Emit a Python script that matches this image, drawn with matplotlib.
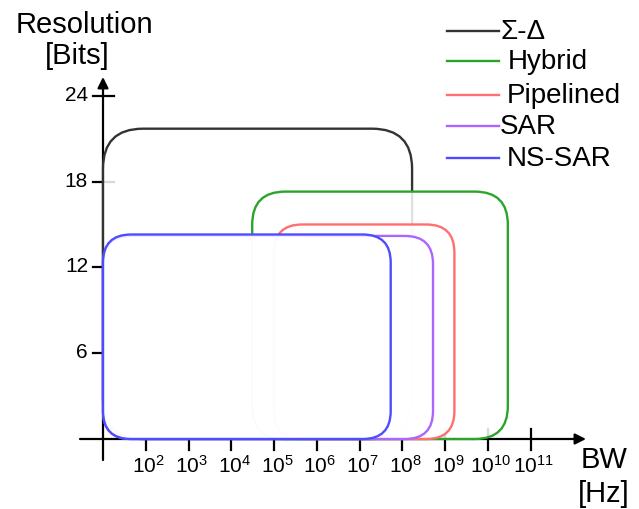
import matplotlib
matplotlib.use('Agg')
import matplotlib.pyplot as plt
from matplotlib.patches import FancyBboxPatch
from matplotlib.lines import Line2D

plt.rcParams['font.family'] = ['Liberation Sans', 'DejaVu Sans']
plt.rcParams['mathtext.fontset'] = 'custom'
plt.rcParams['mathtext.rm'] = 'Liberation Sans'
plt.rcParams['mathtext.it'] = 'Liberation Sans:italic'

# ---------------------------------------------------------------
# data: ADC architectures, bandwidth (log10 Hz) and resolution (bits)
# ---------------------------------------------------------------
names = ['Σ-Δ', 'Hybrid', 'Pipelined', 'SAR', 'NS-SAR']
bw_lo = [1.0, 4.49, 5.0, 1.0, 1.0]
bw_hi = [8.23, 10.47, 9.22, 8.72, 7.73]
res_lo = [0, 0, 0, 0, 0]
res_hi = [21.7, 17.3, 15.0, 14.2, 14.3]

x_ticks = list(range(2, 12))
y_ticks = [6, 12, 18, 24]

colors = ['#333333', '#2aa52a', '#ff6f6f', '#aa66ff', '#4d4dff']
radius_px = [40, 33, 28, 28, 28]

# pixel <-> data mapping (one decade = 42.75 px, one bit = 14.3 px)
PX_DEC, PX_BIT = 42.75, 14.3
W, H = 639, 510
X0, Y0 = 103, 440


def px(x, y):
    return 1 + (x - X0) / PX_DEC, (Y0 - y) / PX_BIT


fig = plt.figure(figsize=(W / 100, H / 100), dpi=100)
ax = fig.add_axes([0, 0, 1, 1])
ax.set_xlim(px(0, 0)[0], px(W, 0)[0])
ax.set_ylim(px(0, H)[1], px(0, 0)[1])
ax.axis('off')

# axes with arrows
ax.annotate('', xy=px(586, Y0), xytext=px(80, Y0),
            arrowprops=dict(arrowstyle='-|>', lw=1.6, color='black',
                            mutation_scale=16, shrinkA=0, shrinkB=0), zorder=1)
ax.annotate('', xy=px(X0, 78), xytext=px(X0, 461),
            arrowprops=dict(arrowstyle='-|>', lw=1.6, color='black',
                            mutation_scale=16, shrinkA=0, shrinkB=0), zorder=1)

tx = 10.5 / PX_DEC
ty = 10.5 / PX_BIT
for t in x_ticks:
    ax.plot([t, t], [-ty, ty], color='black', lw=1.6, zorder=1)
    ax.text(t + 0.07, px(0, 466)[1], rf'$\mathregular{{10^{{{t}}}}}$',
            ha='center', va='center', fontsize=15)
for t in y_ticks:
    ax.plot([1 - tx, 1 + tx], [t, t], color='black', lw=1.6, zorder=1)
    ax.text(px(88, 0)[0], t + 0.1, str(t), ha='right', va='center', fontsize=15)

# rounded boxes, white semi-opaque fill
aspect = PX_DEC / PX_BIT
for i, n in enumerate(names):
    r = radius_px[i] / PX_DEC
    box = FancyBboxPatch((bw_lo[i], res_lo[i]), bw_hi[i] - bw_lo[i],
                         res_hi[i] - res_lo[i],
                         boxstyle=f'round,pad=0,rounding_size={r}',
                         mutation_aspect=aspect,
                         facecolor=(1, 1, 1, 0.85), edgecolor=colors[i],
                         lw=1.7, zorder=2 + i)
    ax.add_patch(box)

# axis titles
ax.text(*px(84, 25), 'Resolution', ha='center', va='center', fontsize=21)
ax.text(*px(77, 56), '[Bits]', ha='center', va='center', fontsize=21)
ax.text(*px(604, 460), 'BW', ha='center', va='center', fontsize=21)
ax.text(*px(604, 494), '[Hz]', ha='center', va='center', fontsize=21)

# legend drawn by hand
leg_y = [32, 62, 96, 127, 159]
leg_tx = [500, 508, 507, 500, 507]
for i, n in enumerate(names):
    (x1, y1), (x2, _) = px(447, leg_y[i]), px(499, leg_y[i])
    ax.add_line(Line2D([x1, x2], [y1, y1], color=colors[i], lw=1.7))
    ax.text(*px(leg_tx[i], leg_y[i]), n, ha='left', va='center', fontsize=20)

plt.savefig('out.png', dpi=100)
